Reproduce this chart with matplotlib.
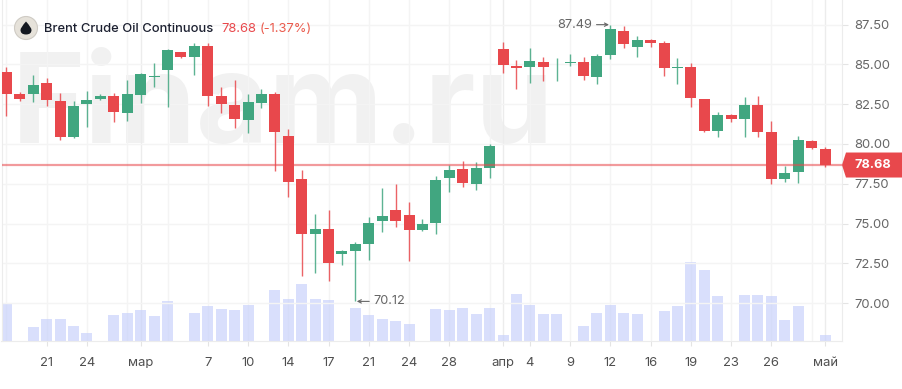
import matplotlib
matplotlib.use("Agg")
from matplotlib import pyplot as plt
from matplotlib.patches import Circle, Polygon, PathPatch
from matplotlib.path import Path
import numpy as np

plt.rcParams['font.family'] = ['Inter', 'DejaVu Sans']

opens = [84.54, 83.12, 83.12, 83.81, 82.70, 80.44, 82.49, 82.82, 83.01, 81.95,
         83.07, 84.20, 84.63, 85.77, 85.48, 86.17, 83.01, 82.47, 81.49, 82.57,
         83.12, 80.50, 77.80, 74.33, 74.68, 73.08, 73.28, 73.70, 75.17, 75.87,
         75.56, 74.62, 75.02, 77.85, 78.45, 77.47, 78.49, 85.94, 84.91, 84.83,
         85.15, 84.88, 85.10, 85.15, 84.20, 85.57, 87.11, 86.11, 86.55, 86.32,
         84.77, 84.81, 82.84, 80.83, 81.84, 81.55, 82.47, 80.73, 77.78, 78.24,
         80.19, 79.70]
closes = [83.12, 82.81, 83.72, 82.74, 80.44, 82.38, 82.78, 83.03, 82.01, 83.11,
          84.37, 84.27, 85.92, 85.46, 86.17, 83.03, 82.49, 81.57, 82.64, 83.12,
          80.75, 77.61, 74.32, 74.68, 72.51, 73.26, 73.74, 75.06, 75.48, 75.17,
          74.62, 75.00, 77.74, 78.37, 77.53, 78.51, 79.89, 84.94, 84.77, 85.23,
          84.83, 84.91, 85.17, 84.29, 85.52, 87.20, 86.28, 86.55, 86.36, 84.77,
          84.81, 82.89, 80.83, 81.84, 81.55, 82.47, 80.75, 77.78, 78.20, 80.25,
          79.73, 78.68]
highs = [84.85, 83.26, 84.31, 84.12, 83.18, 82.72, 83.35, 83.16, 83.18, 84.00,
         84.44, 85.06, 85.94, 85.79, 86.36, 86.36, 83.56, 84.00, 83.12, 83.43,
         83.24, 80.92, 78.37, 75.59, 75.86, 73.35, 73.83, 75.40, 77.24, 77.47,
         76.34, 75.31, 77.99, 78.68, 78.95, 78.85, 80.00, 86.42, 85.26, 86.01,
         85.46, 85.40, 85.63, 85.46, 85.63, 87.49, 87.43, 86.80, 86.57, 86.48,
         85.38, 85.06, 82.84, 81.99, 81.86, 82.93, 83.03, 81.44, 78.64, 80.50,
         80.23, 79.81]
lows = [81.78, 82.72, 82.65, 82.40, 80.27, 80.38, 81.07, 82.78, 81.38, 81.46,
        82.55, 83.58, 82.32, 85.38, 84.31, 82.40, 81.93, 80.98, 80.67, 82.24,
        78.30, 76.67, 71.71, 71.88, 71.38, 72.42, 70.12, 72.72, 74.46, 74.77,
        72.64, 74.52, 74.37, 76.99, 77.28, 77.11, 77.85, 84.46, 83.43, 83.83,
        83.95, 83.97, 84.91, 84.03, 83.75, 85.32, 86.03, 85.46, 86.11, 84.27,
        83.75, 82.32, 80.73, 80.44, 81.38, 80.44, 80.44, 77.47, 77.61, 77.53,
        79.67, 78.57]
volumes = [37.7, 0, 14, 22.3, 22.3, 15, 8.7, 0, 26.3, 28.7,
           31.3, 25, 40, 0, 28.7, 35, 32.3, 31.3, 36.3, 0,
           51.3, 42.3, 57.3, 42.3, 41.3, 0, 33.7, 26.3, 22.3, 20,
           17.3, 0, 32.3, 31.3, 33.7, 27.3, 33.7, 6.3, 47.3, 36.3,
           27.3, 27.3, 0, 15, 28.7, 36.3, 28.7, 27.3, 0, 30,
           35, 79, 71.3, 45, 0, 46.3, 46.3, 45, 21.3, 35,
           0, 6.3]

price_ticks = [87.5, 85, 82.5, 80, 77.5, 75, 72.5, 70]
grid_idx = [0, 3, 6, 9, 10, 12, 15, 18, 21, 24, 27, 30, 33, 36, 37, 39, 42, 45, 48, 51, 54, 57, 60, 61]
month_idx = [10, 37, 61]
label_idx = [3, 6, 10, 15, 18, 21, 24, 27, 30, 33, 37, 39, 42, 45, 48, 51, 54, 57, 61]
labels = ['21', '24', 'мар', '7', '10', '14', '17', '21', '24', '28', 'апр', '4', '9', '12', '16', '19', '23', '26', 'май']

RED = '#e8484c'
GREEN = '#41a680'
W, H = 902, 389

fig = plt.figure(figsize=(W / 100, H / 100), dpi=100, facecolor='white')


def fx(x):
    return x / W


def fy(y):
    return 1 - y / H


# watermark stays behind everything
fig.text(fx(12), fy(143), 'Finam.ru', fontsize=90, fontweight='bold', color='#f1f1f1', zorder=0)

pos = [fx(1.5), fy(341.3), fx(842 - 1.5), 341.3 / H]
vol = fig.add_axes(pos, zorder=1)
ax = fig.add_axes(pos, zorder=2, sharex=vol)
vol.patch.set_visible(False)
ax.patch.set_visible(False)

x = np.arange(len(opens))
o = np.array(opens)
c = np.array(closes)
colors = [GREEN if c[i] >= o[i] else RED for i in x]

for i in grid_idx:
    vol.axvline(i, color='#ececec' if i in month_idx else '#f4f4f4', lw=1, zorder=0)
for p in price_ticks:
    ax.axhline(p, color='#f4f4f4', lw=1, zorder=0)

vol.bar(x, volumes, width=0.82, color='#c9d2fb', alpha=0.7, zorder=2)
vol.set_ylim(0, 341.3)

ax.vlines(x, lows, highs, colors=colors, lw=1.0, alpha=0.85, zorder=3)
ax.bar(x, np.abs(c - o), bottom=np.minimum(o, c), width=0.82, color=colors, zorder=4)

ax.axhline(closes[-1], color=RED, lw=1.6, alpha=0.55, zorder=5)

ax.set_xlim(-0.37, 62.26)
ax.set_ylim(67.615, 89.038)

vol.set_xticks(label_idx)
vol.set_xticklabels(labels)
vol.tick_params(axis='x', length=3.5, width=0.8, color='#e4e4e4', labelsize=9.4, labelcolor='#4f4f4f', pad=8)
vol.set_yticks([])
for s in ['top', 'right', 'left']:
    vol.spines[s].set_visible(False)
vol.spines['bottom'].set_color('#ececec')

ax.yaxis.tick_right()
ax.set_yticks(price_ticks)
ax.set_yticklabels(['%.2f' % p for p in price_ticks])
ax.tick_params(axis='y', length=4, width=0.8, color='#e4e4e4', labelsize=9.4, labelcolor='#666666', pad=5)
ax.tick_params(axis='x', bottom=False, labelbottom=False)
for s in ['top', 'bottom']:
    ax.spines[s].set_visible(False)
ax.spines['right'].set_color('#ececec')
ax.spines['left'].set_color('#ececec')

# high / low marks
ax.annotate('87.49', xy=(45, 87.49), xytext=(-18, 0), textcoords='offset pixels', ha='right', va='center',
            fontsize=9.2, color='#666666', zorder=6,
            arrowprops=dict(arrowstyle='->', color='#666666', lw=0.8, shrinkA=1, shrinkB=1, mutation_scale=6))
ax.annotate('70.12', xy=(26, 70.12), xytext=(18, 0), textcoords='offset pixels', ha='left', va='center',
            fontsize=9.2, color='#666666', zorder=6,
            arrowprops=dict(arrowstyle='->', color='#666666', lw=0.8, shrinkA=1, shrinkB=1, mutation_scale=6))

# last price tag
tag_y = ax.transData.transform((0, closes[-1]))[1] / H
dy = 12.5 / H
tag = Polygon([(fx(842), tag_y), (fx(846), tag_y + dy), (1, tag_y + dy), (1, tag_y - dy), (fx(846), tag_y - dy)],
              closed=True, transform=fig.transFigure, facecolor=RED, edgecolor='none', zorder=10)
fig.add_artist(tag)
fig.text(fx(872.5), tag_y, '%.2f' % closes[-1], color='white', fontsize=9.2, fontweight='bold',
         ha='center', va='center', zorder=11)

# header
fig.add_artist(Circle((26, H - 28), 11.5, transform=None, facecolor='#e6e2da', edgecolor='#cfcbc4', lw=0.8, zorder=10))
drop = Path([(26, H - 21.5), (20.5, H - 27.5), (20.5, H - 30), (20.5, H - 34.5), (26, H - 34.5),
             (31.5, H - 34.5), (31.5, H - 30), (31.5, H - 27.5), (26, H - 21.5)],
            [Path.MOVETO, Path.CURVE3, Path.CURVE3, Path.CURVE3, Path.CURVE3,
             Path.CURVE3, Path.CURVE3, Path.CURVE3, Path.CURVE3])
fig.add_artist(PathPatch(drop, transform=None, facecolor='#141820', edgecolor='none', zorder=11))
fig.text(fx(44), fy(29), 'Brent Crude Oil Continuous', fontsize=9.3, fontweight='medium', color='#1c2030', va='center', zorder=11)
fig.text(fx(221), fy(29), '78.68', fontsize=9.3, color='#e8484c', va='center', zorder=11)
fig.text(fx(260), fy(29), '(-1.37%)', fontsize=9.3, color='#ea5a4c', va='center', zorder=11)

fig.savefig('out.png', dpi=100)
